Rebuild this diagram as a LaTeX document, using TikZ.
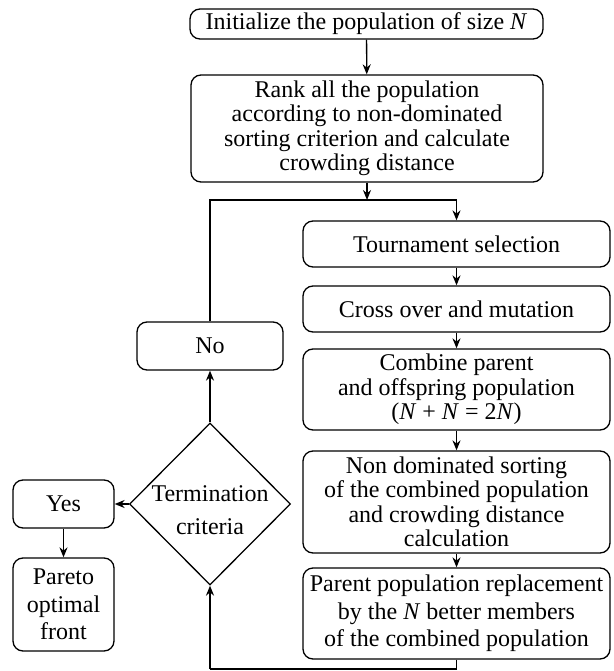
\documentclass[tikz,border=0pt]{standalone}
\usepackage{fontspec}
\setmainfont{Liberation Serif}
\newfontfamily\tmsfont{Liberation Serif}
\usetikzlibrary{shapes.geometric,arrows.meta}
\begin{document}
\begin{tikzpicture}[x=1pt,y=-1pt,
  every node/.style={font=\tmsfont\fontsize{24}{24.5}\selectfont},
  box/.style={draw,line width=1.3pt,rounded corners=10pt,align=center,inner sep=0pt},
  wide/.style={box,minimum width=307pt},
  loose/.style={font=\tmsfont\fontsize{24}{27.5}\selectfont},
  dec/.style={draw,line width=1.3pt,shape=diamond,inner sep=0pt,minimum width=161pt,minimum height=162pt,align=center,font=\tmsfont\fontsize{24}{29}\selectfont},
  arr/.style={line width=1.3pt,-{Stealth[length=10pt,width=8pt]}},
  ln/.style={line width=1.3pt}]
\useasboundingbox (0,0) rectangle (613,671);
\node[box,minimum width=353pt,minimum height=30pt] (init) at (366.5,24) {Initialize the population of size \textit{N}};
\node[box,minimum width=352pt,minimum height=107pt] (rank) at (367,128.5) {Rank all the population\\according to non-dominated\\sorting criterion and calculate\\crowding distance};
\node[wide,minimum height=46pt] (tour) at (456.5,244) {Tournament selection};
\node[wide,minimum height=46pt] (cross) at (456.5,309) {Cross over and mutation};
\node[wide,minimum height=81pt] (comb) at (456.5,389.5) {Combine parent\\and offspring population\\(\textit{N} + \textit{N} = 2\textit{N})};
\node[wide,minimum height=102pt] (nond) at (456.5,502) {Non dominated sorting\\of the combined population\\and crowding distance\\calculation};
\node[wide,loose,minimum height=91pt] (par) at (456.5,613.5) {Parent population replacement\\by the \textit{N} better members\\of the combined population};
\node[box,minimum width=146pt,minimum height=48pt] (no) at (210,346) {No};
\node[dec] (term) at (210,504) {\raisebox{-14.5pt}[0pt][0pt]{\makebox[0pt]{\begin{tabular}{@{}c@{}}Termination\\[4.5pt]criteria\end{tabular}}}};
\node[box,minimum width=101pt,minimum height=48pt] (yes) at (63.5,504) {Yes};
\node[box,loose,minimum width=101pt,minimum height=93pt] (pareto) at (63.5,604.5) {Pareto\\optimal\\front};
\coordinate (j) at (367,200);
\coordinate (jl) at (210,200);
\coordinate (jr) at (456.5,200);
\coordinate (bl) at (210,669);
\coordinate (br) at (456.5,669);
\draw[arr] (init) -- (rank);
\draw[arr] (rank) -- (j);
\draw[ln] (no) -- (jl) -- (jr);
\draw[arr] (jr) -- (tour);
\draw[arr] (tour) -- (cross);
\draw[arr] (cross) -- (comb);
\draw[arr] (comb) -- (nond);
\draw[arr] (nond) -- (par);
\draw[ln] (par) -- (br) -- (bl);
\draw[arr] (bl) -- (term.south);
\draw[arr] (term.north) -- (no);
\draw[arr] (term.west) -- (yes);
\draw[arr] (yes) -- (pareto);
\end{tikzpicture}
\end{document}
